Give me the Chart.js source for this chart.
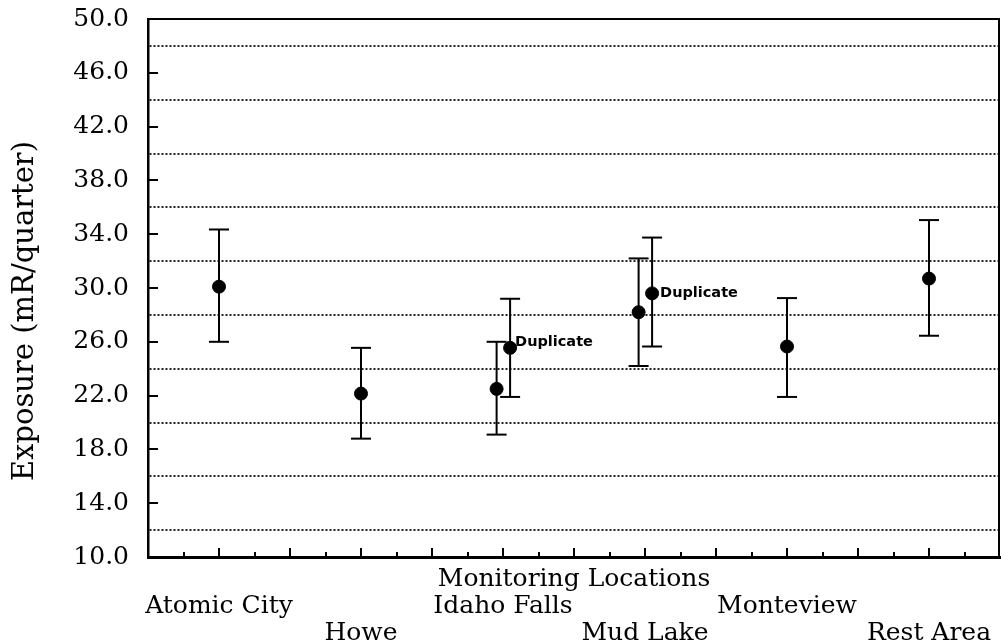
<!DOCTYPE html>
<html><head><meta charset="utf-8">
<script src="https://cdn.jsdelivr.net/npm/chart.js@4/dist/chart.umd.min.js"></script>
<style>html,body{margin:0;padding:0;background:#fff}#wrap{width:1001px;height:644px}</style>
</head><body><div id="wrap"><canvas id="c" width="1001" height="644"></canvas></div>
<script>
// ---- data ----
const categories = ['Atomic City', 'Howe', 'Idaho Falls', 'Mud Lake', 'Monteview', 'Rest Area'];
const exposure   = [30.1, 22.15, 22.5, 28.2, 25.65, 30.7];
const lowerBound = [26.0, 18.8, 19.1, 24.2, 21.9, 26.45];
const upperBound = [34.35, 25.55, 26.0, 32.2, 29.25, 35.05];
const duplicateCategories = ['Idaho Falls', 'Mud Lake'];
const duplicateExposure   = [25.55, 29.6];
const duplicateLower      = [21.9, 25.65];
const duplicateUpper      = [29.2, 33.75];
const yTickValues = [10, 14, 18, 22, 26, 30, 34, 38, 42, 46, 50];
const yTickLabels = ['10.0', '14.0', '18.0', '22.0', '26.0', '30.0', '34.0', '38.0', '42.0', '46.0', '50.0'];
const yGridValues = [12, 16, 20, 24, 28, 32, 36, 40, 44, 48];
const xAxisTitle = 'Monitoring Locations';
const yAxisTitle = 'Exposure (mR/quarter)';
const duplicateText = 'Duplicate';

// ---- layout / style settings ----
const DODGE_MAIN = -0.045, DODGE_DUP = 0.05;
const FONT = '"DejaVu Serif", serif';
const dupLabelOffsets = [{dx: 5, dy: -6}, {dx: 8, dy: 0}];

const hasDup = c => duplicateCategories.includes(c);
const mainX = categories.map((c, i) => i + (hasDup(c) ? DODGE_MAIN : 0));
const dupX = duplicateCategories.map(c => categories.indexOf(c) + DODGE_DUP);

const barSets = [];
const capPts = [];
function addBar(x, lo, hi) {
  barSets.push({type: 'scatter', showLine: true, data: [{x, y: lo}, {x, y: hi}],
    borderColor: '#000', borderWidth: 2, pointRadius: 0, order: 2});
  capPts.push({x, y: lo}, {x, y: hi});
}
categories.forEach((c, i) => addBar(mainX[i], lowerBound[i], upperBound[i]));
duplicateCategories.forEach((c, i) => addBar(dupX[i], duplicateLower[i], duplicateUpper[i]));

const datasets = [
  {label: 'Exposure', data: categories.map((c, i) => ({x: mainX[i], y: exposure[i]})),
   pointRadius: 6.5, pointBackgroundColor: '#000', pointBorderColor: '#000', pointBorderWidth: 1, order: 0},
  {label: 'Duplicate', data: duplicateCategories.map((c, i) => ({x: dupX[i], y: duplicateExposure[i]})),
   pointRadius: 6.5, pointBackgroundColor: '#000', pointBorderColor: '#000', pointBorderWidth: 1, order: 0},
  {label: 'caps', data: capPts, pointStyle: 'line', pointRadius: 10, pointBorderWidth: 2,
   pointBorderColor: '#000', order: 1},
  ...barSets
];

const xTickValues = [];
for (let k = -2; k <= 22; k++) xTickValues.push(k / 4);

const frame = {
  id: 'frame',
  afterDatasetsDraw(chart) {
    const {ctx, chartArea: a, scales: {x, y}} = chart;
    ctx.save();
    ctx.strokeStyle = '#000';
    ctx.lineWidth = 2;
    ctx.beginPath();
    ctx.moveTo(a.left, a.top); ctx.lineTo(a.right - 1, a.top); ctx.lineTo(a.right - 1, a.bottom);
    x.ticks.forEach(t => {
      if (t.value <= x.min || t.value >= x.max) return;
      const px = Math.round(x.getPixelForValue(t.value));
      const major = Math.abs(t.value * 2 - Math.round(t.value * 2)) < 1e-6;
      ctx.moveTo(px, a.bottom); ctx.lineTo(px, a.bottom - (major ? 9 : 5));
    });
    yTickValues.forEach(v => {
      if (v <= y.min || v >= y.max) return;
      const py = Math.round(y.getPixelForValue(v));
      ctx.moveTo(a.left, py); ctx.lineTo(a.left + 10, py);
    });
    ctx.stroke();
    // duplicate labels
    const meta = chart.getDatasetMeta(1);
    ctx.fillStyle = '#000';
    ctx.font = 'bold 14.5px "DejaVu Sans", sans-serif';
    ctx.textAlign = 'left';
    ctx.textBaseline = 'middle';
    meta.data.forEach((el, i) => {
      const o = dupLabelOffsets[i];
      ctx.fillText(duplicateText, el.x + o.dx, el.y + o.dy);
    });
    ctx.restore();
  }
};

Chart.defaults.color = '#000';
new Chart(document.getElementById('c'), {
  type: 'scatter',
  data: {datasets},
  plugins: [frame],
  options: {
    responsive: false,
    animation: false,
    events: [],
    layout: {autoPadding: false, padding: {top: 19, right: 1, bottom: 0, left: 0}},
    plugins: {legend: {display: false}, tooltip: {enabled: false}},
    scales: {
      x: {
        type: 'linear', position: 'bottom', min: -0.5, max: 5.5,
        afterBuildTicks: s => { s.ticks = xTickValues.map(v => ({value: v})); },
        afterFit: s => { s.height = 87; s.paddingLeft = 0; s.paddingRight = 0; },
        ticks: {
          autoSkip: false, maxRotation: 0, minRotation: 0, padding: 0, color: '#000',
          font: {family: FONT, size: 25, lineHeight: '27px'},
          callback(v) {
            if (Math.abs(v - 2.5) < 1e-6) return [xAxisTitle];
            const i = Math.round(v);
            if (Math.abs(v - i) < 1e-6 && i >= 0 && i < categories.length) {
              return i % 2 === 0 ? ['', categories[i]] : ['', '', categories[i]];
            }
            return '';
          }
        },
        grid: {drawTicks: true, tickLength: 9, tickColor: 'rgba(0,0,0,0)', color: 'rgba(0,0,0,0)'},
        border: {display: true, color: '#000', width: 3}
      },
      y: {
        type: 'linear', min: 10, max: 50,
        afterBuildTicks: s => { s.ticks = yTickValues.concat(yGridValues).sort((a, b) => a - b).map(v => ({value: v})); },
        afterFit: s => { s.width = 148; s.paddingTop = 0; s.paddingBottom = 0; },
        ticks: {
          autoSkip: false, padding: 19, color: '#000',
          font: {family: FONT, size: 25},
          callback(v) { const k = yTickValues.indexOf(v); return k >= 0 ? yTickLabels[k] : ''; }
        },
        grid: {
          drawTicks: false, lineWidth: 2,
          color: ctx => (ctx.tick && yGridValues.includes(ctx.tick.value)) ? '#222' : 'rgba(0,0,0,0)'
        },
        border: {display: true, color: '#000', width: 2.5, dash: [2, 2]},
        title: {
          display: true, text: yAxisTitle + '     ', color: '#000',
          font: {family: FONT, size: 29}, padding: {top: 8, bottom: 0}
        }
      }
    }
  }
});
</script>
</body></html>
